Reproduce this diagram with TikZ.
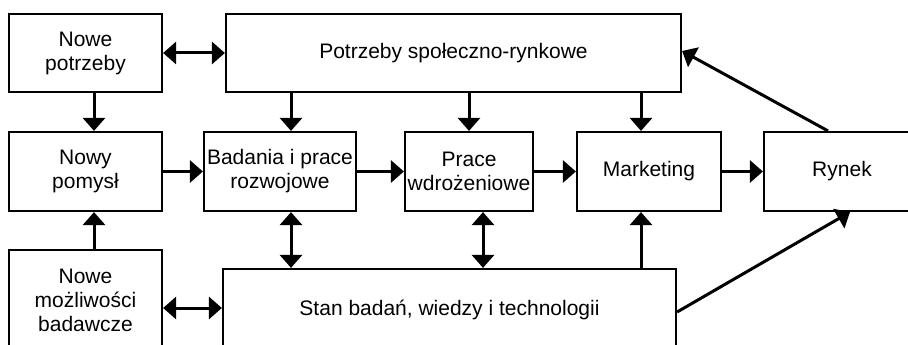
\documentclass[tikz,border=0pt]{standalone}
\usepackage{fontspec}
\setmainfont{Liberation Sans}
\usetikzlibrary{arrows.meta}

\begin{document}
\begin{tikzpicture}[
  x=1pt,y=-1pt,
  every node/.style={draw,line width=2.2pt,align=center,inner sep=0pt,
    font=\fontsize{21}{24}\selectfont},
  arr/.style={line width=3pt,-{Triangle[length=13pt,width=22pt]}},
  darr/.style={line width=3pt,{Triangle[length=13pt,width=22pt]}-{Triangle[length=13pt,width=22pt]}}
]
\useasboundingbox (0,0) rectangle (908,345);
\clip (0,0) rectangle (908,345);

\node[minimum width=153,minimum height=78] (npotrz) at (85.5,53) {Nowe\\potrzeby};
\node[minimum width=455,minimum height=78] (potrz) at (453.5,53) {Potrzeby społeczno-rynkowe};
\node[minimum width=153,minimum height=79] (npom) at (85.5,171.5) {Nowy\\pomysł};
\node[minimum width=152,minimum height=79] (bad) at (280,171.5) {Badania i prace\\rozwojowe};
\node[minimum width=128,minimum height=79] (wdr) at (469,171.5) {Prace\\wdrożeniowe};
\node[minimum width=144,minimum height=79] (mark) at (649,171.5) {Marketing};
\node[minimum width=156,minimum height=79] (rynek) at (842,171.5) {Rynek};
\node[minimum width=153,minimum height=100] (nmoz) at (85.5,300) {Nowe\\możliwości\\badawcze};
\node[minimum width=453,minimum height=82] (stan) at (449.5,310) {Stan badań, wiedzy i technologii};

% gorny rzad
\draw[darr] (npotrz.east) -- (potrz.west);
\draw[arr] ([xshift=8.5]npotrz.south) -- ([xshift=8.5]npom.north);
\draw[arr] (potrz.south -| 291,0) -- ([xshift=11]bad.north);
\draw[arr] (potrz.south -| wdr.north) -- (wdr.north);
\draw[arr] (potrz.south -| 641,0) -- ([xshift=-8]mark.north);

% srodkowy rzad
\draw[arr] (npom.east) -- (bad.west);
\draw[arr] (bad.east) -- (wdr.west);
\draw[arr] (wdr.east) -- (mark.west);
\draw[arr] (mark.east) -- (rynek.west);
\draw[arr] ([xshift=-14]rynek.north) -- ([yshift=2]potrz.east);

% dolny rzad
\draw[arr] ([xshift=8.5]nmoz.north) -- ([xshift=8.5]npom.south);
\draw[darr] ([xshift=11]bad.south) -- (stan.north -| 291,0);
\draw[darr] ([xshift=14]wdr.south) -- (stan.north -| 483,0);
\draw[arr] (stan.north -| 641,0) -- ([xshift=-8]mark.south);
\draw[arr] ([yshift=-2]stan.east) -- ([xshift=8]rynek.south);
\draw[darr] (nmoz.east |- 0,308) -- (stan.west |- 0,308);
\end{tikzpicture}
\end{document}
